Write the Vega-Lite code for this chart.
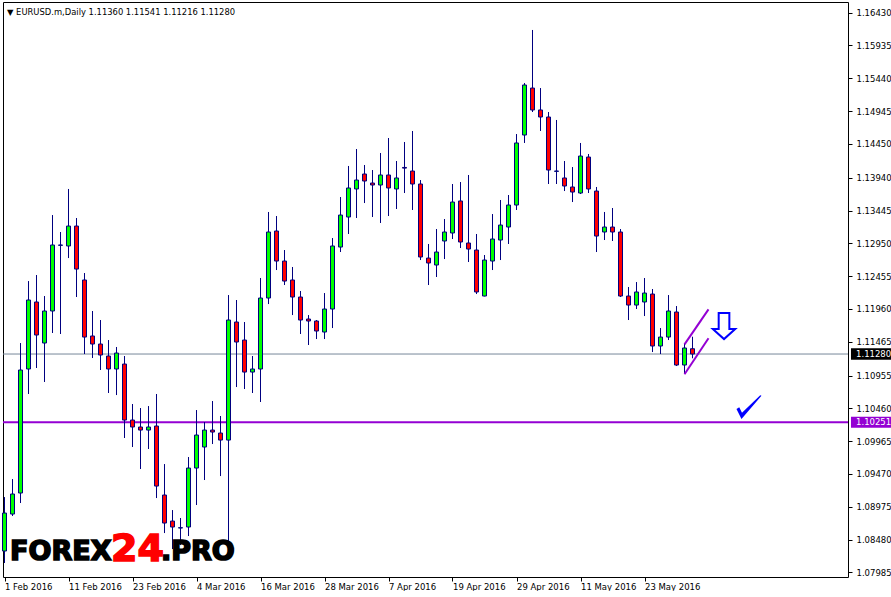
{
  "$schema": "https://vega.github.io/schema/vega-lite/v6.json",
  "width": 845,
  "height": 575,
  "padding": {"left": 2, "top": 2, "right": 0, "bottom": 0},
  "background": "white",
  "title": {
    "text": "▼  EURUSD.m,Daily  1.11360 1.11541 1.11216 1.11280",
    "anchor": "start",
    "frame": "group",
    "offset": -21,
    "baseline": "alphabetic",
    "font": "DejaVu Sans",
    "fontSize": 8.4,
    "fontWeight": "normal",
    "color": "black",
    "dx": 4
  },
  "datasets": {
    "candles": [
      {"date":"2016-02-01","i":0,"open":1.08308,"high":1.09122,"low":1.08127,"close":1.08881},
      {"date":"2016-02-02","i":1,"open":1.08866,"high":1.09394,"low":1.08836,"close":1.09168},
      {"date":"2016-02-03","i":2,"open":1.09183,"high":1.11446,"low":1.09032,"close":1.11039},
      {"date":"2016-02-04","i":3,"open":1.11054,"high":1.12381,"low":1.10677,"close":1.12095},
      {"date":"2016-02-05","i":4,"open":1.12065,"high":1.12472,"low":1.11069,"close":1.11567},
      {"date":"2016-02-08","i":5,"open":1.11446,"high":1.12155,"low":1.10858,"close":1.11929},
      {"date":"2016-02-09","i":6,"open":1.11929,"high":1.13377,"low":1.11597,"close":1.12925},
      {"date":"2016-02-10","i":7,"open":1.12920,"high":1.13121,"low":1.11582,"close":1.12925},
      {"date":"2016-02-11","i":8,"open":1.12910,"high":1.13770,"low":1.12728,"close":1.13211},
      {"date":"2016-02-12","i":9,"open":1.13211,"high":1.13332,"low":1.12140,"close":1.12562},
      {"date":"2016-02-15","i":10,"open":1.12397,"high":1.12502,"low":1.11280,"close":1.11536},
      {"date":"2016-02-16","i":11,"open":1.11552,"high":1.11929,"low":1.11220,"close":1.11431},
      {"date":"2016-02-17","i":12,"open":1.11431,"high":1.11793,"low":1.11039,"close":1.11265},
      {"date":"2016-02-18","i":13,"open":1.11250,"high":1.11491,"low":1.10692,"close":1.11054},
      {"date":"2016-02-19","i":14,"open":1.11054,"high":1.11386,"low":1.10661,"close":1.11295},
      {"date":"2016-02-22","i":15,"open":1.11129,"high":1.11250,"low":1.10013,"close":1.10284},
      {"date":"2016-02-23","i":16,"open":1.10284,"high":1.10526,"low":1.09877,"close":1.10179},
      {"date":"2016-02-24","i":17,"open":1.10179,"high":1.10465,"low":1.09545,"close":1.10133},
      {"date":"2016-02-25","i":18,"open":1.10133,"high":1.10495,"low":1.09847,"close":1.10179},
      {"date":"2016-02-26","i":19,"open":1.10194,"high":1.10677,"low":1.09107,"close":1.09288},
      {"date":"2016-02-29","i":20,"open":1.09153,"high":1.09620,"low":1.08579,"close":1.08730},
      {"date":"2016-03-01","i":21,"open":1.08760,"high":1.08926,"low":1.08338,"close":1.08670},
      {"date":"2016-03-02","i":22,"open":1.08655,"high":1.08806,"low":1.08398,"close":1.08660},
      {"date":"2016-03-03","i":23,"open":1.08670,"high":1.09726,"low":1.08534,"close":1.09560},
      {"date":"2016-03-04","i":24,"open":1.09560,"high":1.10435,"low":1.09002,"close":1.10058},
      {"date":"2016-03-07","i":25,"open":1.09877,"high":1.10254,"low":1.09379,"close":1.10133},
      {"date":"2016-03-08","i":26,"open":1.10133,"high":1.10571,"low":1.09922,"close":1.10103},
      {"date":"2016-03-09","i":27,"open":1.10088,"high":1.10345,"low":1.09439,"close":1.09982},
      {"date":"2016-03-10","i":28,"open":1.09982,"high":1.12170,"low":1.08278,"close":1.11793},
      {"date":"2016-03-11","i":29,"open":1.11763,"high":1.12095,"low":1.10782,"close":1.11461},
      {"date":"2016-03-14","i":30,"open":1.11491,"high":1.11763,"low":1.10752,"close":1.11008},
      {"date":"2016-03-15","i":31,"open":1.11008,"high":1.11250,"low":1.10692,"close":1.11054},
      {"date":"2016-03-16","i":32,"open":1.11054,"high":1.12427,"low":1.10556,"close":1.12125},
      {"date":"2016-03-17","i":33,"open":1.12125,"high":1.13423,"low":1.12034,"close":1.13121},
      {"date":"2016-03-18","i":34,"open":1.13136,"high":1.13362,"low":1.12547,"close":1.12683},
      {"date":"2016-03-21","i":35,"open":1.12683,"high":1.12849,"low":1.12321,"close":1.12381},
      {"date":"2016-03-22","i":36,"open":1.12397,"high":1.12593,"low":1.11868,"close":1.12140},
      {"date":"2016-03-23","i":37,"open":1.12140,"high":1.12231,"low":1.11582,"close":1.11793},
      {"date":"2016-03-24","i":38,"open":1.11808,"high":1.11868,"low":1.11416,"close":1.11778},
      {"date":"2016-03-25","i":39,"open":1.11778,"high":1.11793,"low":1.11506,"close":1.11627},
      {"date":"2016-03-28","i":40,"open":1.11612,"high":1.12200,"low":1.11506,"close":1.11959},
      {"date":"2016-03-29","i":41,"open":1.11959,"high":1.13030,"low":1.11672,"close":1.12910},
      {"date":"2016-03-30","i":42,"open":1.12894,"high":1.13649,"low":1.12819,"close":1.13377},
      {"date":"2016-03-31","i":43,"open":1.13347,"high":1.14117,"low":1.13091,"close":1.13785},
      {"date":"2016-04-01","i":44,"open":1.13770,"high":1.14373,"low":1.13332,"close":1.13905},
      {"date":"2016-04-04","i":45,"open":1.13996,"high":1.14132,"low":1.13558,"close":1.13890},
      {"date":"2016-04-05","i":46,"open":1.13860,"high":1.14056,"low":1.13347,"close":1.13830},
      {"date":"2016-04-06","i":47,"open":1.13830,"high":1.14313,"low":1.13257,"close":1.13981},
      {"date":"2016-04-07","i":48,"open":1.13981,"high":1.14539,"low":1.13362,"close":1.13785},
      {"date":"2016-04-08","i":49,"open":1.13770,"high":1.14192,"low":1.13468,"close":1.13936},
      {"date":"2016-04-11","i":50,"open":1.14095,"high":1.14479,"low":1.13709,"close":1.14085},
      {"date":"2016-04-12","i":51,"open":1.14041,"high":1.14645,"low":1.13453,"close":1.13845},
      {"date":"2016-04-13","i":52,"open":1.13845,"high":1.13905,"low":1.12698,"close":1.12744},
      {"date":"2016-04-14","i":53,"open":1.12728,"high":1.12940,"low":1.12321,"close":1.12653},
      {"date":"2016-04-15","i":54,"open":1.12623,"high":1.13166,"low":1.12442,"close":1.12819},
      {"date":"2016-04-18","i":55,"open":1.12985,"high":1.13317,"low":1.12713,"close":1.13121},
      {"date":"2016-04-19","i":56,"open":1.13106,"high":1.13845,"low":1.13015,"close":1.13573},
      {"date":"2016-04-20","i":57,"open":1.13589,"high":1.13875,"low":1.12879,"close":1.12970},
      {"date":"2016-04-21","i":58,"open":1.12955,"high":1.13981,"low":1.12668,"close":1.12864},
      {"date":"2016-04-22","i":59,"open":1.12849,"high":1.13091,"low":1.12185,"close":1.12216},
      {"date":"2016-04-25","i":60,"open":1.12155,"high":1.12774,"low":1.12150,"close":1.12698},
      {"date":"2016-04-26","i":61,"open":1.12683,"high":1.13392,"low":1.12547,"close":1.13015},
      {"date":"2016-04-27","i":62,"open":1.13000,"high":1.13604,"low":1.12698,"close":1.13226},
      {"date":"2016-04-28","i":63,"open":1.13196,"high":1.13679,"low":1.12940,"close":1.13528},
      {"date":"2016-04-29","i":64,"open":1.13528,"high":1.14599,"low":1.13453,"close":1.14464},
      {"date":"2016-05-02","i":65,"open":1.14584,"high":1.15369,"low":1.14464,"close":1.15339},
      {"date":"2016-05-03","i":66,"open":1.15293,"high":1.16169,"low":1.14931,"close":1.14962},
      {"date":"2016-05-04","i":67,"open":1.14962,"high":1.15293,"low":1.14645,"close":1.14856},
      {"date":"2016-05-05","i":68,"open":1.14856,"high":1.14931,"low":1.13845,"close":1.14056},
      {"date":"2016-05-06","i":69,"open":1.14036,"high":1.14811,"low":1.13845,"close":1.14041},
      {"date":"2016-05-09","i":70,"open":1.13936,"high":1.14192,"low":1.13739,"close":1.13815},
      {"date":"2016-05-10","i":71,"open":1.13800,"high":1.14101,"low":1.13573,"close":1.13724},
      {"date":"2016-05-11","i":72,"open":1.13709,"high":1.14464,"low":1.13694,"close":1.14267},
      {"date":"2016-05-12","i":73,"open":1.14252,"high":1.14298,"low":1.13709,"close":1.13770},
      {"date":"2016-05-13","i":74,"open":1.13739,"high":1.13800,"low":1.12819,"close":1.13060},
      {"date":"2016-05-16","i":75,"open":1.13121,"high":1.13423,"low":1.13000,"close":1.13196},
      {"date":"2016-05-17","i":76,"open":1.13196,"high":1.13483,"low":1.12985,"close":1.13121},
      {"date":"2016-05-18","i":77,"open":1.13121,"high":1.13166,"low":1.12140,"close":1.12155},
      {"date":"2016-05-19","i":78,"open":1.12155,"high":1.12291,"low":1.11793,"close":1.12019},
      {"date":"2016-05-20","i":79,"open":1.12019,"high":1.12366,"low":1.11959,"close":1.12216},
      {"date":"2016-05-23","i":80,"open":1.12065,"high":1.12427,"low":1.11853,"close":1.12200},
      {"date":"2016-05-24","i":81,"open":1.12185,"high":1.12261,"low":1.11310,"close":1.11401},
      {"date":"2016-05-25","i":82,"open":1.11401,"high":1.11672,"low":1.11280,"close":1.11536},
      {"date":"2016-05-26","i":83,"open":1.11536,"high":1.12170,"low":1.11491,"close":1.11929},
      {"date":"2016-05-27","i":84,"open":1.11914,"high":1.12004,"low":1.11099,"close":1.11114},
      {"date":"2016-05-30","i":85,"open":1.11114,"high":1.11446,"low":1.10978,"close":1.11371},
      {"date":"2016-05-31","i":86,"open":1.11360,"high":1.11541,"low":1.11216,"close":1.11280}
    ],
    "channel": [
      {"seg":"upper","i":85,"price":1.11426},
      {"seg":"upper","i":88,"price":1.11954},
      {"seg":"lower","i":85,"price":1.10974},
      {"seg":"lower","i":88,"price":1.11517}
    ],
    "one": [{}]
  },
  "layer": [
    {
      "data": {"name": "one"},
      "mark": {"type": "rule", "color": "#778899", "strokeWidth": 1},
      "encoding": {
        "y": {"datum": 1.1128, "type": "quantitative", "scale": {"domain": [1.07916, 1.16591], "nice": false, "zero": false, "padding": 0}}
      }
    },
    {
      "data": {"name": "one"},
      "mark": {"type": "rule", "color": "#9400D3", "strokeWidth": 2},
      "encoding": {
        "y": {"datum": 1.10251, "type": "quantitative", "scale": {"domain": [1.07916, 1.16591], "nice": false, "zero": false, "padding": 0}}
      }
    },
    {
      "data": {"name": "candles"},
      "mark": {"type": "rule", "color": "#000080", "strokeWidth": 1},
      "encoding": {
        "x": {
          "field": "i", "type": "quantitative",
          "scale": {"domain": [-0.1875, 105.4375], "nice": false, "zero": false, "padding": 0},
          "axis": {
            "orient": "bottom", "title": null,
            "values": [0, 8, 16, 24, 32, 40, 48, 56, 64, 72, 80],
            "tickCount": 30,
            "labelExpr": "['1 Feb 2016','11 Feb 2016','23 Feb 2016','4 Mar 2016','16 Mar 2016','28 Mar 2016','7 Apr 2016','19 Apr 2016','29 Apr 2016','11 May 2016','23 May 2016'][round(datum.value/8)]",
            "labelAlign": "left", "labelBaseline": "top", "tickSize": 4, "labelPadding": 1,
            "labelFlush": false, "labelOverlap": false, "labelBound": false
          }
        },
        "y": {
          "field": "low", "type": "quantitative",
          "scale": {"domain": [1.07916, 1.16591], "nice": false, "zero": false, "padding": 0},
          "axis": {
            "orient": "right", "title": null,
            "values": [1.07985, 1.0848, 1.08975, 1.0947, 1.09965, 1.1046, 1.10955, 1.11465, 1.1196, 1.12455, 1.1295, 1.13445, 1.1394, 1.1445, 1.14945, 1.1544, 1.15935, 1.1643],
            "tickCount": 30,
            "format": ".5f", "tickSize": 4, "labelPadding": 4, "labelAlign": "left", "labelBaseline": "middle",
            "labelOverlap": false, "labelFlush": false, "labelBound": false
          }
        },
        "y2": {"field": "high"}
      }
    },
    {
      "data": {"name": "candles"},
      "mark": {"type": "bar", "size": 4, "stroke": "#000080", "strokeWidth": 1, "opacity": 1},
      "encoding": {
        "x": {"field": "i", "type": "quantitative", "scale": {"domain": [-0.1875, 105.4375], "nice": false, "zero": false, "padding": 0}},
        "y": {"field": "open", "type": "quantitative", "scale": {"domain": [1.07916, 1.16591], "nice": false, "zero": false, "padding": 0}},
        "y2": {"field": "close"},
        "color": {"condition": {"test": "datum.close >= datum.open", "value": "#00FF00"}, "value": "#FF0000"}
      }
    },
    {
      "data": {"name": "channel"},
      "mark": {"type": "line", "color": "#9400D3", "strokeWidth": 2},
      "encoding": {
        "x": {"field": "i", "type": "quantitative", "scale": {"domain": [-0.1875, 105.4375], "nice": false, "zero": false, "padding": 0}},
        "y": {"field": "price", "type": "quantitative", "scale": {"domain": [1.07916, 1.16591], "nice": false, "zero": false, "padding": 0}},
        "detail": {"field": "seg"}
      }
    },
    {
      "data": {"name": "one"},
      "mark": {"type": "point", "shape": "M-1,-0.29L1,-0.29L1,0.29L-1,0.29Z", "size": 1600, "filled": true, "color": "black", "opacity": 1},
      "encoding": {
        "x": {"datum": 108.31, "type": "quantitative", "scale": {"domain": [-0.1875, 105.4375], "nice": false, "zero": false, "padding": 0}},
        "y": {"datum": 1.1128, "type": "quantitative", "scale": {"domain": [1.07916, 1.16591], "nice": false, "zero": false, "padding": 0}}
      }
    },
    {
      "data": {"name": "one"},
      "mark": {"type": "point", "shape": "M-1,-0.28L1,-0.28L1,0.28L-1,0.28Z", "size": 1600, "filled": true, "color": "#9400D3", "opacity": 1},
      "encoding": {
        "x": {"datum": 108.31, "type": "quantitative", "scale": {"domain": [-0.1875, 105.4375], "nice": false, "zero": false, "padding": 0}},
        "y": {"datum": 1.10251, "type": "quantitative", "scale": {"domain": [1.07916, 1.16591], "nice": false, "zero": false, "padding": 0}}
      }
    },
    {
      "data": {"name": "one"},
      "mark": {"type": "text", "align": "left", "baseline": "middle", "font": "DejaVu Sans", "fontSize": 8.5, "color": "white"},
      "encoding": {
        "x": {"datum": 106.44, "type": "quantitative", "scale": {"domain": [-0.1875, 105.4375], "nice": false, "zero": false, "padding": 0}},
        "y": {"datum": 1.1128, "type": "quantitative", "scale": {"domain": [1.07916, 1.16591], "nice": false, "zero": false, "padding": 0}},
        "text": {"value": "1.11280"}
      }
    },
    {
      "data": {"name": "one"},
      "mark": {"type": "text", "align": "left", "baseline": "middle", "font": "DejaVu Sans", "fontSize": 8.5, "color": "white"},
      "encoding": {
        "x": {"datum": 106.44, "type": "quantitative", "scale": {"domain": [-0.1875, 105.4375], "nice": false, "zero": false, "padding": 0}},
        "y": {"datum": 1.10251, "type": "quantitative", "scale": {"domain": [1.07916, 1.16591], "nice": false, "zero": false, "padding": 0}},
        "text": {"value": "1.10251"}
      }
    },
    {
      "data": {"name": "one"},
      "mark": {"type": "point", "shape": "M-0.41,-1L0.41,-1L0.41,0.23L0.86,0.23L0,1L-0.86,0.23L-0.41,0.23Z", "size": 676, "fill": "white", "stroke": "#0000FF", "strokeWidth": 2, "opacity": 1, "fillOpacity": 1},
      "encoding": {
        "x": {"datum": 89.94, "type": "quantitative", "scale": {"domain": [-0.1875, 105.4375], "nice": false, "zero": false, "padding": 0}},
        "y": {"datum": 1.11702, "type": "quantitative", "scale": {"domain": [1.07916, 1.16591], "nice": false, "zero": false, "padding": 0}}
      }
    },
    {
      "data": {"name": "one"},
      "mark": {"type": "point", "shape": "M-1,0.15L-0.78,0.02L-0.56,0.45L0.9,-0.95L1,-0.9L-0.6,0.95Z", "size": 625, "filled": true, "color": "#0000FF", "opacity": 1},
      "encoding": {
        "x": {"datum": 93.06, "type": "quantitative", "scale": {"domain": [-0.1875, 105.4375], "nice": false, "zero": false, "padding": 0}},
        "y": {"datum": 1.1048, "type": "quantitative", "scale": {"domain": [1.07916, 1.16591], "nice": false, "zero": false, "padding": 0}}
      }
    },
    {
      "data": {"name": "one"},
      "mark": {"type": "text", "align": "left", "baseline": "alphabetic", "font": "DejaVu Sans", "fontWeight": "bold", "fontSize": 27, "color": "black", "stroke": "black", "strokeWidth": 1.6},
      "encoding": {
        "x": {"datum": 0.69, "type": "quantitative", "scale": {"domain": [-0.1875, 105.4375], "nice": false, "zero": false, "padding": 0}},
        "y": {"datum": 1.08172, "type": "quantitative", "scale": {"domain": [1.07916, 1.16591], "nice": false, "zero": false, "padding": 0}},
        "text": {"value": "FOREX"}
      }
    },
    {
      "data": {"name": "one"},
      "mark": {"type": "text", "align": "left", "baseline": "alphabetic", "font": "DejaVu Sans", "fontWeight": "bold", "fontSize": 38, "color": "#FF0000", "stroke": "#FF0000", "strokeWidth": 1.6},
      "encoding": {
        "x": {"datum": 13.31, "type": "quantitative", "scale": {"domain": [-0.1875, 105.4375], "nice": false, "zero": false, "padding": 0}},
        "y": {"datum": 1.0815, "type": "quantitative", "scale": {"domain": [1.07916, 1.16591], "nice": false, "zero": false, "padding": 0}},
        "text": {"value": "24"}
      }
    },
    {
      "data": {"name": "one"},
      "mark": {"type": "text", "align": "left", "baseline": "alphabetic", "font": "DejaVu Sans", "fontWeight": "bold", "fontSize": 27, "color": "black", "stroke": "black", "strokeWidth": 1.6},
      "encoding": {
        "x": {"datum": 19.56, "type": "quantitative", "scale": {"domain": [-0.1875, 105.4375], "nice": false, "zero": false, "padding": 0}},
        "y": {"datum": 1.08172, "type": "quantitative", "scale": {"domain": [1.07916, 1.16591], "nice": false, "zero": false, "padding": 0}},
        "text": {"value": ".PRO"}
      }
    }
  ],
  "config": {
    "view": {"stroke": "black", "strokeWidth": 1},
    "axis": {
      "labelFont": "DejaVu Sans", "labelFontSize": 8.5, "labelColor": "black",
      "tickColor": "black", "tickWidth": 1, "domain": false, "grid": false, "labelOverlap": false
    }
  }
}
